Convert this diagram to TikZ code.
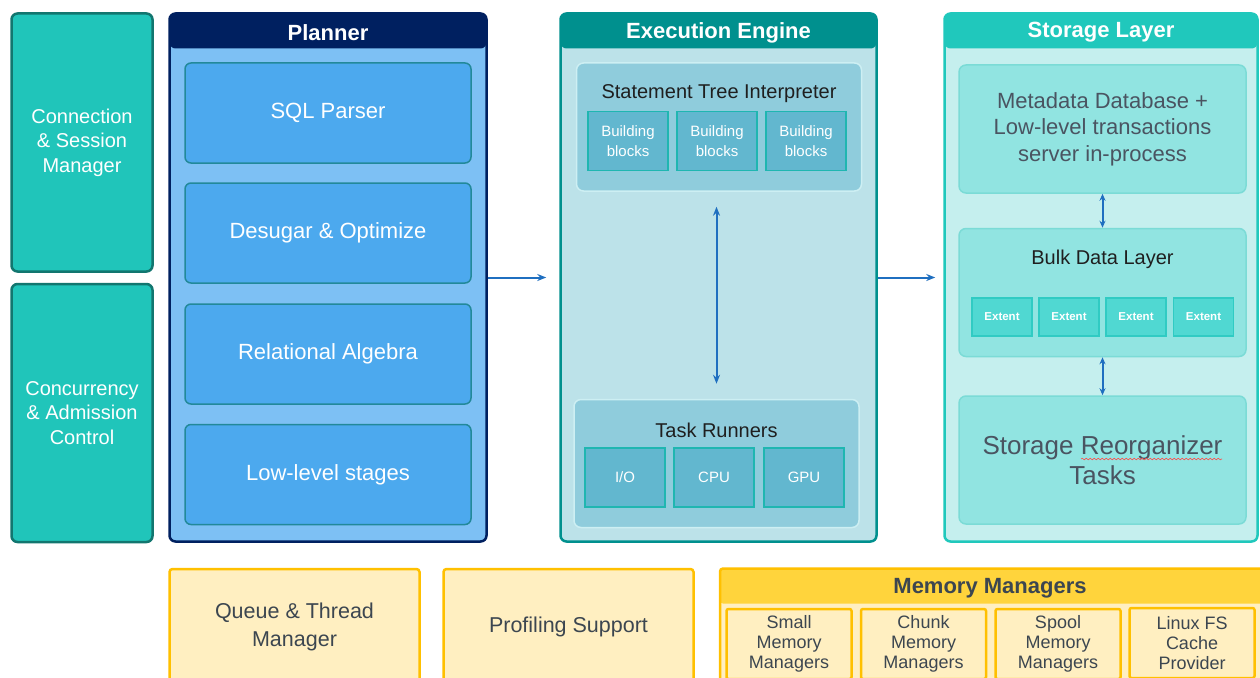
\documentclass[tikz,border=0pt]{standalone}
\usepackage{fontspec}
\setmainfont{Liberation Sans}
\usetikzlibrary{arrows.meta,decorations.pathmorphing}

\definecolor{sidefill}{HTML}{20C5BA}
\definecolor{sideline}{HTML}{12766F}
\definecolor{navy}{HTML}{002060}
\definecolor{planbody}{HTML}{7DC0F4}
\definecolor{planbox}{HTML}{4CA9EE}
\definecolor{planline}{HTML}{22899A}
\definecolor{exechead}{HTML}{00908E}
\definecolor{execbody}{HTML}{BCE2E9}
\definecolor{execinner}{HTML}{8FCCDC}
\definecolor{execedge}{HTML}{CDEFF3}
\definecolor{block}{HTML}{62B7CF}
\definecolor{blockline}{HTML}{1FB6B1}
\definecolor{storhead}{HTML}{20C8BC}
\definecolor{storbody}{HTML}{C5EFEE}
\definecolor{storinner}{HTML}{91E4E1}
\definecolor{storedge}{HTML}{7BDBD6}
\definecolor{extent}{HTML}{50D8D2}
\definecolor{extentline}{HTML}{30CBC3}
\definecolor{amber}{HTML}{FFC000}
\definecolor{amberhead}{HTML}{FFD43C}
\definecolor{cream}{HTML}{FFEFC1}
\definecolor{flow}{HTML}{1F6FC0}
\definecolor{slate}{HTML}{4A5461}
\definecolor{ink}{HTML}{3C4650}

\tikzset{
  panel/.style 2 args={draw=#1, line width=2.5pt, rounded corners=6pt, inner sep=0pt,
    path picture={\fill[#2] (path picture bounding box.north west) rectangle ([yshift=-35pt]path picture bounding box.north east);}},
  heading/.style={text=white, font=\bfseries\fontsize{22}{26}\selectfont},
  sidebox/.style={draw=sideline, fill=sidefill, line width=2.5pt, rounded corners=6pt, text=white, align=center,
    font=\fontsize{20}{24.5}\selectfont, minimum width=141pt, minimum height=258pt},
  stagebox/.style={draw=planline, fill=planbox, line width=1.5pt, rounded corners=6pt, text=white,
    font=\fontsize{22}{26}\selectfont, minimum width=286pt, minimum height=100pt},
  groupbox/.style={line width=1.5pt, rounded corners=7pt, minimum width=285pt, minimum height=128pt},
  grouptitle/.style={text=black!88, font=\fontsize{20}{24}\selectfont},
  cellbox/.style={draw=blockline, fill=block, line width=1.5pt, text=white, align=center,
    font=\fontsize{15}{20}\selectfont, minimum width=80pt, minimum height=59pt},
  extentbox/.style={draw=extentline, fill=extent, line width=1.5pt, text=white,
    font=\bfseries\fontsize{11.5}{13}\selectfont, minimum width=60pt, minimum height=38pt},
  yelbox/.style={draw=amber, fill=cream, line width=2.5pt, rounded corners=3pt, text=ink, align=center},
  flowline/.style={flow, line width=2pt},
}

\begin{document}
\begin{tikzpicture}[x=1pt, y=-1pt, >={Stealth[length=9pt,width=7pt]}]
  \useasboundingbox (0,0) rectangle (1260,677);
  \clip (0,0) rectangle (1260,677);
  \fill[white] (0,0) rectangle (1260,677);

  % Side managers
  \node[sidebox] (conn) at (82,142.5) {Connection\\\& Session\\Manager};
  \node[sidebox] (admit) at (82,413) {Concurrency\\\& Admission\\Control};

  % Planner
  \node[panel={navy}{navy}, fill=planbody, minimum width=317pt, minimum height=528pt] (planner) at (328,277.5) {};
  \node[heading] (plannerTitle) at (328,32.5) {Planner};
  \node[stagebox] (parser) at (328,113) {SQL Parser};
  \node[stagebox] (optimize) at (328,233) {Desugar \& Optimize};
  \node[stagebox] (algebra) at (328,354) {Relational Algebra};
  \node[stagebox] (stages) at (328,474.5) {Low-level stages};

  % Execution engine
  \node[panel={exechead}{exechead}, fill=execbody, minimum width=316pt, minimum height=528pt] (exec) at (718.5,277.5) {};
  \node[heading] (execTitle) at (718.5,32.5) {Execution Engine};
  \node[groupbox, draw=execedge, fill=execinner] (sti) at (719,127) {};
  \node[grouptitle] (stiTitle) at (719,94) {Statement Tree Interpreter};
  \foreach \x [count=\i] in {628,717,806}
    \node[cellbox] (blk\i) at (\x,141) {Building\\blocks};
  \node[groupbox, draw=execedge, fill=execinner] (tasks) at (716.5,463.5) {};
  \node[grouptitle] (tasksTitle) at (716.5,430) {Task Runners};
  \node[cellbox] (io) at (625,477.5) {I/O};
  \node[cellbox] (cpu) at (714,477.5) {CPU};
  \node[cellbox] (gpu) at (804,477.5) {GPU};

  % Storage layer
  \node[panel={storhead}{storhead}, fill=storbody, minimum width=313pt, minimum height=528pt] (storage) at (1101,277.5) {};
  \node[heading] (storTitle) at (1101,32.5) {Storage Layer};
  \node[groupbox, draw=storedge, fill=storinner, minimum width=287pt, text=slate, align=center,
    font=\fontsize{22}{26.5}\selectfont] (meta) at (1102.5,129) {Metadata Database +\\Low-level transactions\\server in-process};
  \node[groupbox, draw=storedge, fill=storinner, minimum width=287pt] (bulk) at (1102.5,292.5) {};
  \node[grouptitle] (bulkTitle) at (1102.5,259) {Bulk Data Layer};
  \foreach \x [count=\i] in {1002,1069,1136,1203.5}
    \node[extentbox] (ext\i) at (\x,317) {Extent};
  \node[groupbox, draw=storedge, fill=storinner, minimum width=287pt, text=slate, align=center,
    font=\fontsize{26}{30}\selectfont] (reorg) at (1102.5,460) {Storage Reorganizer\\Tasks};
  \draw[decorate, decoration={snake, amplitude=0.8pt, segment length=4pt}, red!70, line width=0.6pt]
    (1081,459) -- (1222,459);

  % Arrows
  \draw[flowline, ->] (planner.east) -- ([xshift=-13pt]exec.west);
  \draw[flowline, ->] (exec.east) -- ([xshift=-8pt]storage.west);
  \draw[flowline, <->] ([yshift=15pt]tasks.north) -- ([yshift=-15pt]tasks.north |- sti.south);
  \draw[flowline, <->, >={Stealth[length=7pt,width=6pt]}] (meta.south) -- (bulk.north);
  \draw[flowline, <->, >={Stealth[length=7pt,width=6pt]}] (bulk.south) -- (reorg.north);

  % Support services
  \node[yelbox, minimum width=250pt, minimum height=116pt, font=\fontsize{21.5}{28}\selectfont] (queue) at (294.5,627) {Queue \& Thread\\Manager};
  \node[yelbox, minimum width=250pt, minimum height=116pt, font=\fontsize{21.5}{28}\selectfont] (prof) at (568.5,627) {Profiling Support};
  \node[panel={amber}{amberhead}, fill=cream, minimum width=550pt, minimum height=120pt, rounded corners=3pt] (mem) at (995,628.5) {};
  \node[text=ink, font=\bfseries\fontsize{22}{26}\selectfont] (memTitle) at (990,588.5) {Memory Managers};
  \foreach \x/\t [count=\i] in {789/Small, 923.5/Chunk, 1058/Spool}
    \node[yelbox, rounded corners=2pt, minimum width=125pt, minimum height=70pt, font=\fontsize{18}{20}\selectfont] (mm\i) at (\x,644) {\t\\Memory\\Managers};
  \node[yelbox, rounded corners=2pt, minimum width=125pt, minimum height=70pt, font=\fontsize{18}{20}\selectfont] (fsCache) at (1192,643) {Linux FS\\Cache\\Provider};
\end{tikzpicture}
\end{document}
